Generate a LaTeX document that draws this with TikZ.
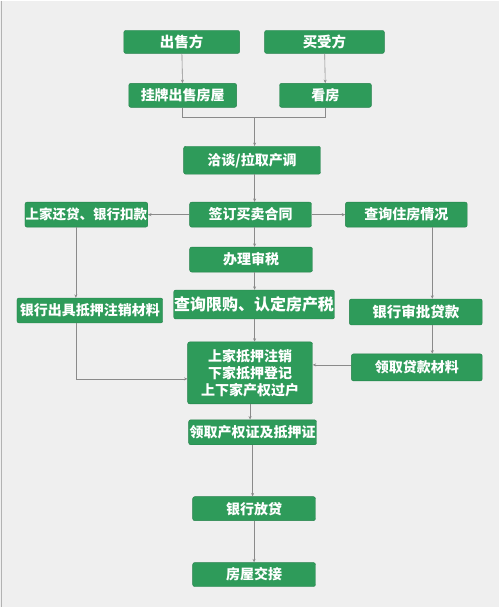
\documentclass[tikz,border=0pt]{standalone}
\usepackage{fontspec}
\newfontfamily\cjk{Noto Sans CJK SC}
\usetikzlibrary{arrows.meta}
\definecolor{boxgreen}{HTML}{2E9B5A}
\definecolor{boxedge}{HTML}{24814A}
\definecolor{bggray}{HTML}{EFEFEF}
\definecolor{linegray}{HTML}{8A8A8A}
\begin{document}
\begin{tikzpicture}[x=1pt,y=-1pt,
  box/.style={draw=boxedge,fill=boxgreen,rounded corners=2pt,text=white,
    font=\cjk\bfseries\fontsize{14}{16}\selectfont,inner sep=0,align=center},
  link/.style={draw=linegray,line width=0.6pt},
  arr/.style={link,-{Stealth[length=3.5pt,width=3pt]}}]
  \fill[bggray] (0,0) rectangle (500,607);
  \draw[gray!60,line width=1pt] (1.5,0) -- (1.5,607);
  %% Top row.
  \node[box,minimum width=116pt,minimum height=23pt,
    font=\cjk\bfseries\fontsize{14.5}{17}\selectfont] (P1) at (182,41.5) {出售方};
  \node[box,minimum width=120pt,minimum height=23pt,
    font=\cjk\bfseries\fontsize{14.5}{17}\selectfont] (P2) at (325,41.5) {买受方};
  \node[box,minimum width=108pt,minimum height=24pt] (P3) at (183,95) {挂牌出售房屋};
  \node[box,minimum width=92pt,minimum height=24pt] (P4) at (326,95) {看房};
  %% Middle column.
  \node[box,minimum width=137pt,minimum height=28pt] (P5) at (252.5,160) {洽谈/拉取产调};
  \node[box,minimum width=122pt,minimum height=25pt] (P6) at (251,214.5) {签订买卖合同};
  \node[box,minimum width=123pt,minimum height=25pt] (P7) at (251.5,259.5) {办理审税};
  \node[box,minimum width=161pt,minimum height=29pt,
    font=\cjk\bfseries\fontsize{16}{18}\selectfont] (P8) at (254.5,304.5) {查询限购、认定房产税};
  \node[box,minimum width=125pt,minimum height=62pt,
    font=\cjk\bfseries\fontsize{14}{17}\selectfont] (P9) at (250.5,373) {上家抵押注销\\下家抵押登记\\上下家产权过户};
  \node[box,minimum width=128pt,minimum height=25pt] (P10) at (253,432.5) {领取产权证及抵押证};
  \node[box,minimum width=123pt,minimum height=24pt] (P11) at (254.5,509) {银行放贷};
  \node[box,minimum width=123pt,minimum height=24pt] (P12) at (254.5,575) {房屋交接};
  %% Left column.
  \node[box,minimum width=123pt,minimum height=25pt,
    font=\cjk\bfseries\fontsize{13.5}{16}\selectfont] (P13) at (86.5,214.5) {上家还贷、银行扣款};
  \node[box,minimum width=146pt,minimum height=25pt] (P14) at (90,310.5) {银行出具抵押注销材料};
  %% Right column.
  \node[box,minimum width=122pt,minimum height=25pt] (P15) at (407,214.5) {查询住房情况};
  \node[box,minimum width=133pt,minimum height=26pt,
    font=\cjk\bfseries\fontsize{14.5}{17}\selectfont] (P16) at (416.5,312) {银行审批贷款};
  \node[box,minimum width=131pt,minimum height=27pt] (P17) at (417.5,367.5) {领取贷款材料};
  \coordinate (J1) at (255,117);

  \draw[arr] (P1) -- (P3);
  \draw[arr] (P2) -- (P4);
  \draw[link] (P3.south) |- (J1) -| (P4.south);
  \draw[arr] (J1) -- (J1 |- P5.north);

  \draw[arr] (J1 |- P5.south) -- (J1 |- P6.north);
  \draw[arr] (P6) -- (P13);
  \draw[arr] (P6) -- (P15);
  \draw[arr] (J1 |- P6.south) -- (J1 |- P7.north);
  \draw[arr] (J1 |- P7.south) -- (J1 |- P8.north);
  \draw[arr] (J1 |- P8.south) -- (J1 |- P9.north);

  \draw[arr] ([xshift=-10.5pt]P13.south) -- ([xshift=-10.5pt]P13.south |- P14.north);
  \draw[arr] ([xshift=-14pt]P14.south) |- ([yshift=-6pt]P9.west);

  \draw[arr] ([xshift=26pt]P15.south) -- ([xshift=26pt]P15.south |- P16.north);
  \draw[arr] ([xshift=16.5pt]P16.south) -- ([xshift=16.5pt]P16.south |- P17.north);
  \draw[arr] (P17.west |- 0,365) -- (P9.east |- 0,365);

  \draw[arr] (P9.south) -- (P9.south |- P10.north);
  \draw[arr] (P10.south) -- (P10.south |- P11.north);
  \draw[arr] (P11) -- (P12);
\end{tikzpicture}
\end{document}
